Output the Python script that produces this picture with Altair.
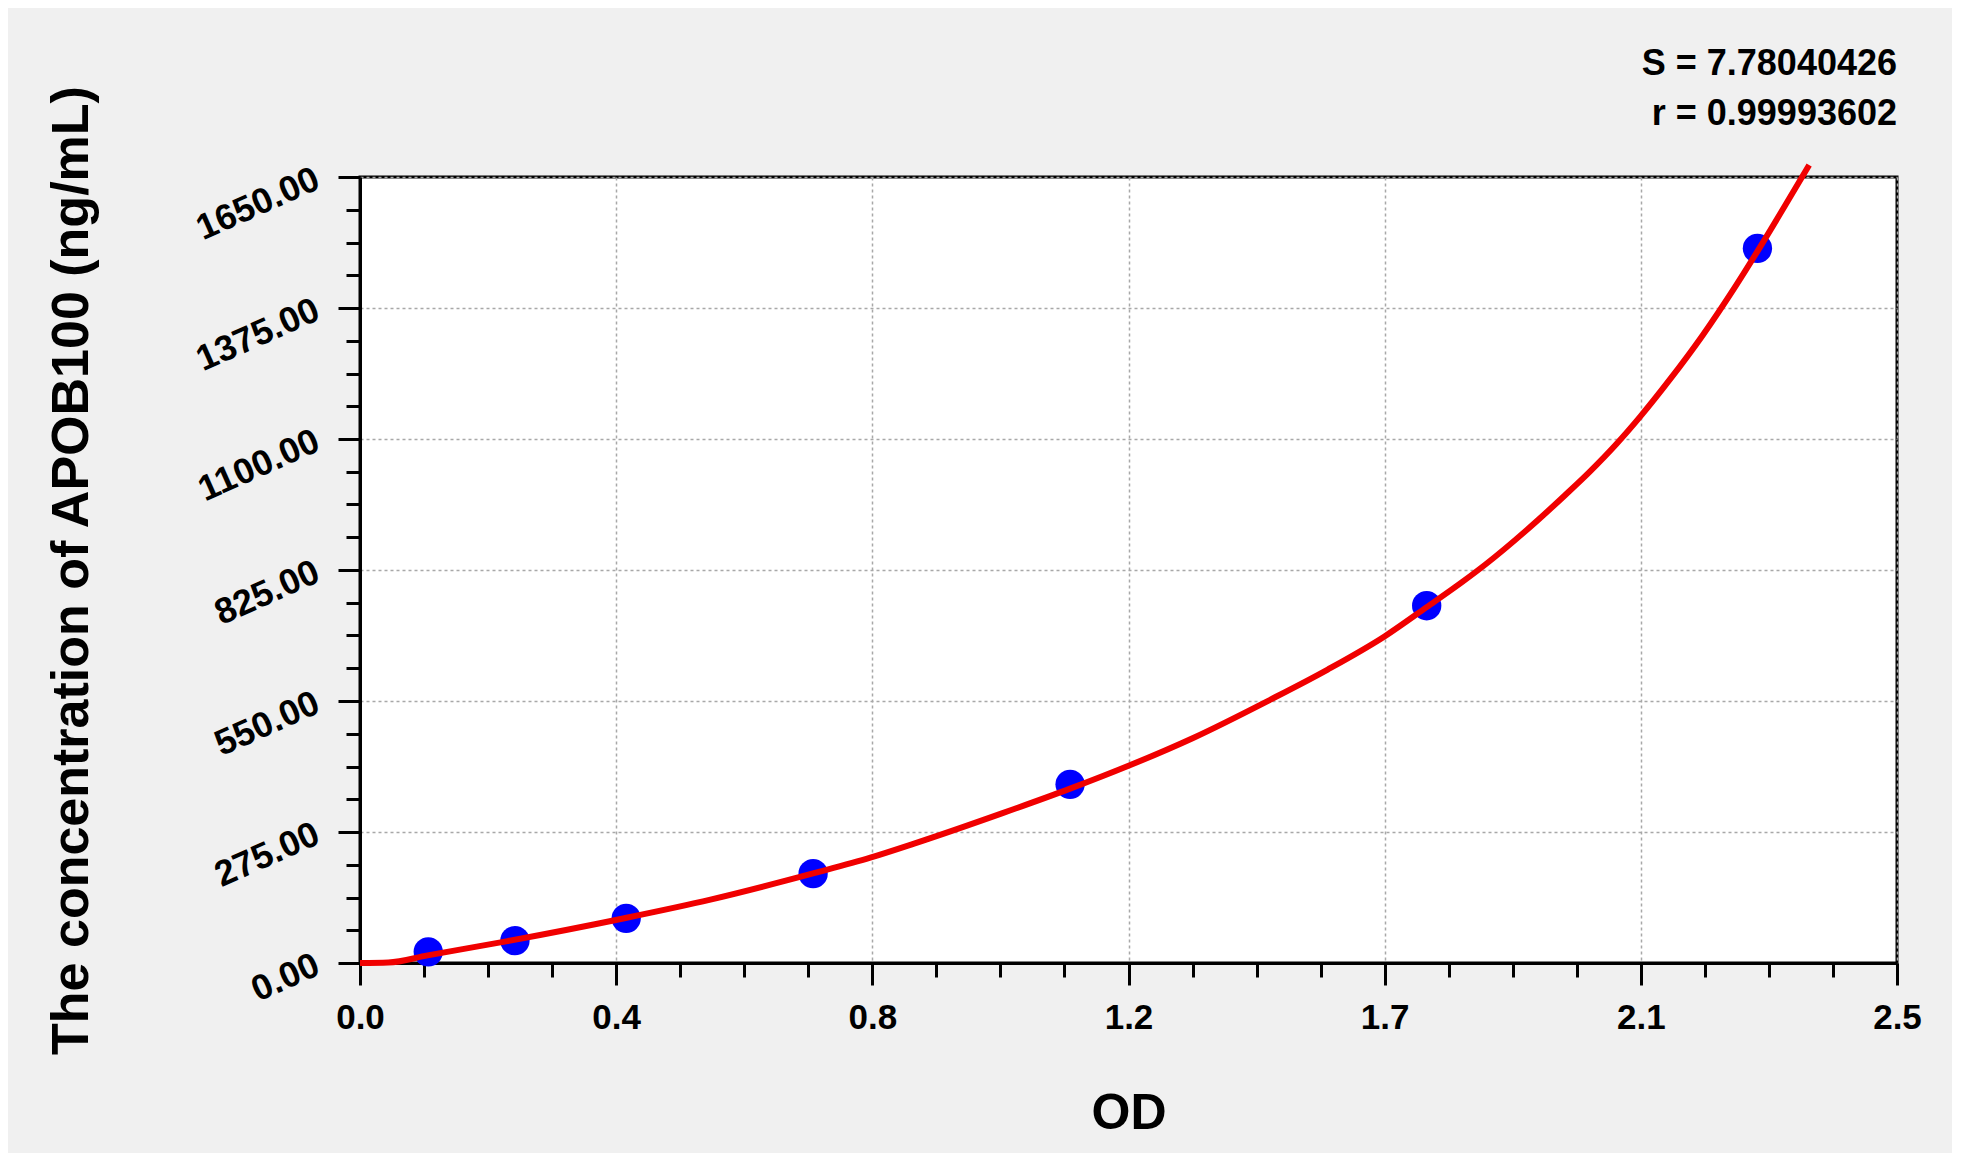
import pandas as pd
import altair as alt

# Standards: OD vs concentration (ng/mL)
od_values = [0.111, 0.252, 0.433, 0.737, 1.155, 1.735, 2.273]
conc_values = [23.44, 46.88, 93.75, 187.5, 375.0, 750.0, 1500.0]

# Fitted curve
curve_od = [0.0, 0.046, 0.11, 0.24, 0.43, 0.57, 0.74, 0.83, 0.90, 1.044, 1.155,
            1.25, 1.356, 1.481, 1.574, 1.667, 1.735, 1.793, 1.83, 1.917, 1.96,
            2.0, 2.044, 2.083, 2.13, 2.184, 2.238, 2.273, 2.318, 2.357]
curve_conc = [0, 1, 16, 46, 94, 133, 189, 221, 250, 314, 366,
              414, 473, 553, 616, 686, 747, 800, 836, 931, 982,
              1031, 1090, 1148, 1224, 1318, 1422, 1494, 1590, 1675]

x_tick_labels = ['0.0', '0.4', '0.8', '1.2', '1.7', '2.1', '2.5']
y_tick_labels = ['0.00', '275.00', '550.00', '825.00', '1100.00', '1375.00', '1650.00']
stats_lines = ['S = 7.78040426', 'r = 0.99993602']

x_max = 2.5
y_max = 1650
# 6 major steps, each split in 4 minor steps
x_major = [i * x_max / 6 for i in range(7)]
x_minor = [i * x_max / 24 for i in range(25) if i % 4]
y_major = [i * y_max / 6 for i in range(7)]
y_minor = [i * y_max / 24 for i in range(25) if i % 4]

df_points = pd.DataFrame({'od': od_values, 'conc': conc_values})
df_curve = pd.DataFrame({'od': curve_od, 'conc': curve_conc})

font = 'Liberation Sans'
plot_w, plot_h = 1537, 786

x_scale = alt.Scale(domain=[0, x_max], nice=False, zero=False)
y_scale = alt.Scale(domain=[0, y_max], nice=False, zero=False)

x_label_expr = f"{x_tick_labels}[round(datum.value * {6 / x_max})]"
y_label_expr = f"{y_tick_labels}[round(datum.value * {6 / y_max})]"

common = dict(tickColor='black', tickWidth=3, domainColor='black', domainWidth=3,
              labelFont=font, labelFontWeight='bold', labelColor='black',
              labelFlush=False, labelOverlap=False,
              titleFont=font, titleFontWeight='bold', titleColor='black',
              gridColor='#a8a8a8', gridDash=[3, 3], gridWidth=1.5)

x_axis_major = alt.Axis(orient='bottom', values=x_major, labelExpr=x_label_expr,
                        tickSize=22, labelFontSize=35, labelPadding=15, grid=True,
                        title='OD', titleFontSize=50, titleX=plot_w / 2, titleY=150,
                        titleBaseline='middle', **common)
y_axis_major = alt.Axis(orient='left', values=y_major, labelExpr=y_label_expr,
                        tickSize=22, labelFontSize=36, labelPadding=21, labelAngle=336,
                        labelAlign='right', labelBaseline='middle', grid=True,
                        title='The concentration of APOB100 (ng/mL)', titleFontSize=52,
                        titleAngle=270, titleX=-289, titleY=plot_h / 2,
                        titleBaseline='middle', titleAlign='center', **common)

x_axis_minor = alt.Axis(orient='bottom', values=x_minor, labels=False, tickSize=14,
                        tickColor='black', tickWidth=3, domain=False, grid=False, title='')
y_axis_minor = alt.Axis(orient='left', values=y_minor, labels=False, tickSize=14,
                        tickColor='black', tickWidth=3, domain=False, grid=False, title='')

points = alt.Chart(df_points).mark_circle(size=860, color='#0000ff', opacity=1).encode(
    x=alt.X('od:Q', scale=x_scale, axis=x_axis_minor),
    y=alt.Y('conc:Q', scale=y_scale, axis=y_axis_minor)
)

curve = alt.Chart(df_curve).mark_line(color='#f00000', strokeWidth=6,
                                      interpolate='monotone', clip=False).encode(
    x=alt.X('od:Q', scale=x_scale, axis=x_axis_major),
    y=alt.Y('conc:Q', scale=y_scale, axis=y_axis_major)
)

chart = alt.layer(points, curve).resolve_axis(
    x='independent', y='independent'
).properties(
    width=plot_w,
    height=plot_h,
    autosize=alt.AutoSizeParams(type='none'),
    padding={'left': 352, 'top': 169, 'right': 55, 'bottom': 190},
    background='#f0f0f0',
    # the y axis title reaches above the plot, so pull the title back down
    title=alt.TitleParams(stats_lines, anchor='end', frame='group', font=font,
                          fontSize=36, fontWeight='bold', color='black',
                          lineHeight=50, offset=-48)
).configure_view(
    fill='white', stroke='black', strokeWidth=3
)

chart.save('out.html', embed_options={'renderer': 'svg', 'actions': False})
